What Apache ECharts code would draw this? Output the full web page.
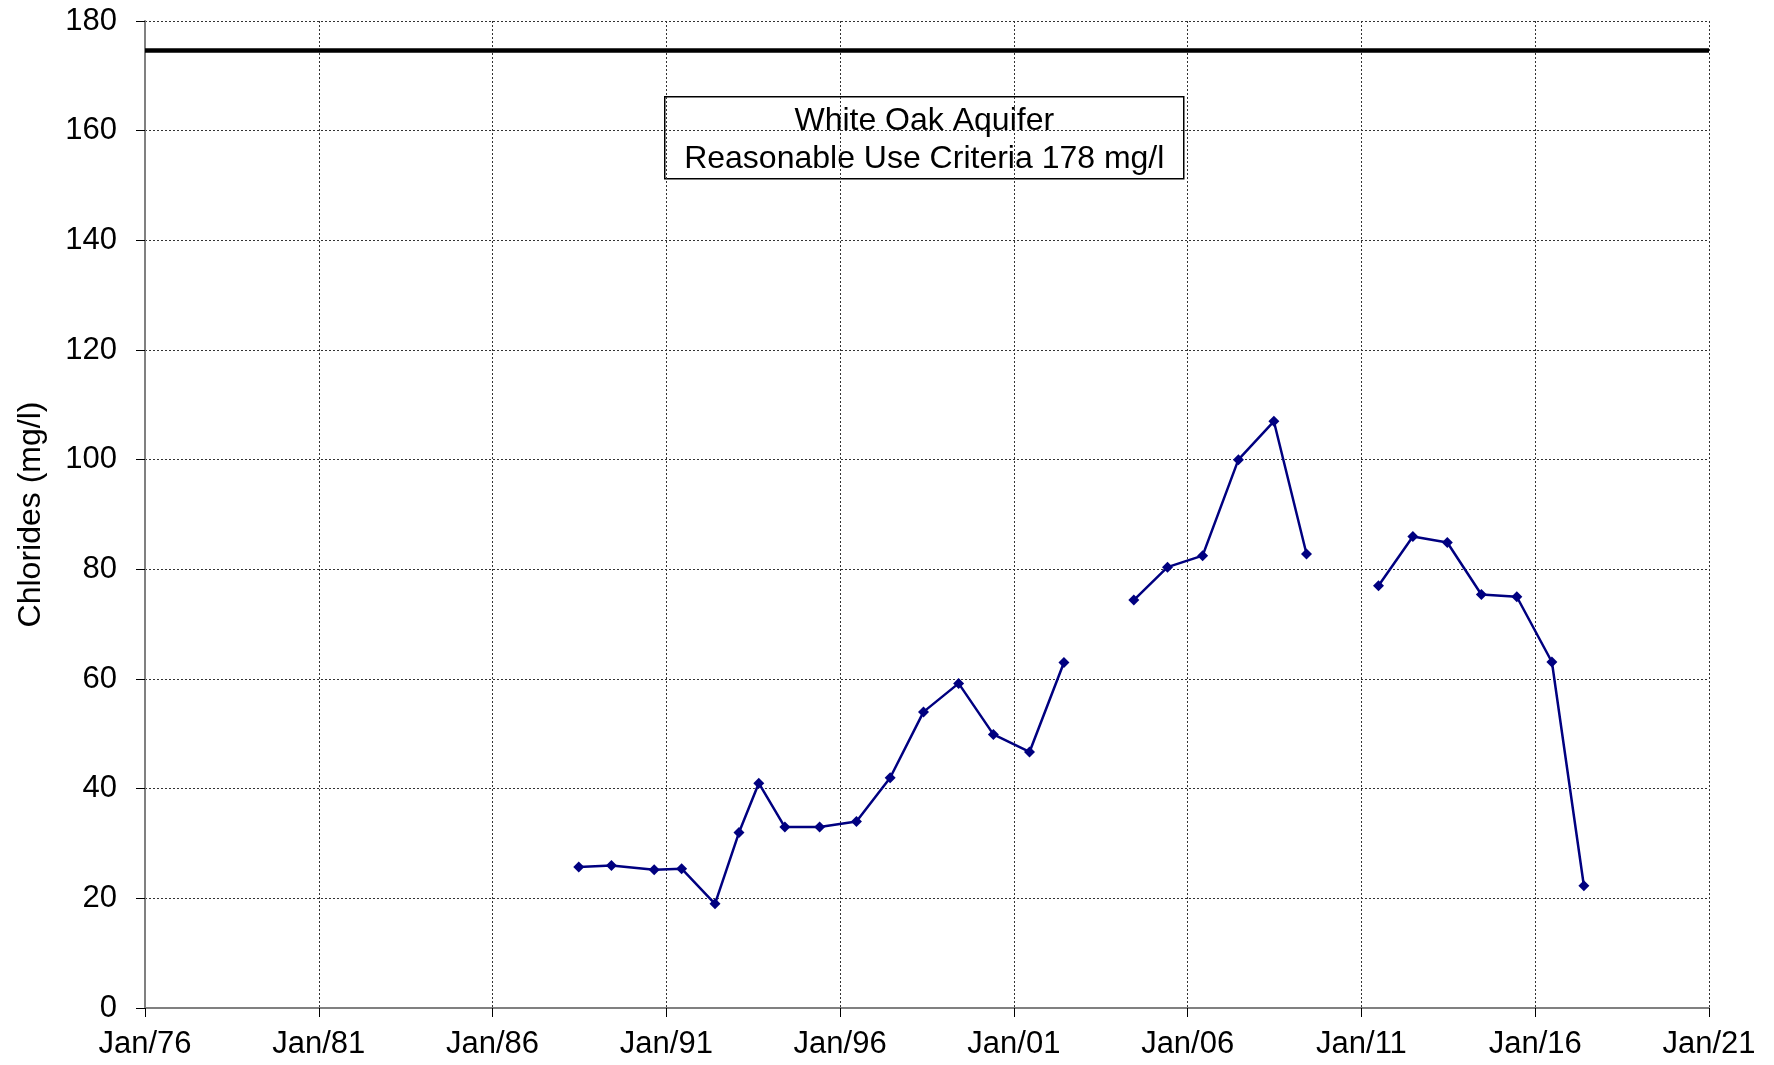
<!DOCTYPE html>
<html>
<head>
<meta charset="utf-8">
<script src="https://cdn.jsdelivr.net/npm/echarts@6/dist/echarts.min.js"></script>
<style>
html,body{margin:0;padding:0;background:#fff;}
#chart{width:1774px;height:1065px;}
</style>
</head>
<body>
<div id="chart"></div>
<script>
// Sample dates as decimal years (null value = gap in record)
const sampleYears = [1988.48, 1989.42, 1990.65, 1991.44, 1992.40, 1993.09, 1993.66, 1994.41, 1995.41, 1996.47,
  1997.44, 1998.40, 1999.41, 2000.41, 2001.45, 2002.44, 2003.4, 2004.45, 2005.42, 2006.43,
  2007.46, 2008.48, 2009.42, 2010.5, 2011.49, 2012.48, 2013.47, 2014.45, 2015.47, 2016.48, 2017.40];
const chlorides = [25.7, 26.0, 25.2, 25.4, 19.0, 32.0, 41.0, 33.0, 33.0, 34.0,
  42.0, 54.0, 59.2, 49.9, 46.7, 63.0, null, 74.4, 80.4, 82.5,
  100.0, 107.0, 82.8, null, 77.0, 86.0, 84.9, 75.4, 75.0, 63.1, 22.3];
const criteriaLevel = 174.6;
const xTickYears = [1976, 1981, 1986, 1991, 1996, 2001, 2006, 2011, 2016, 2021];
const yTicks = [0, 20, 40, 60, 80, 100, 120, 140, 160, 180];
const annotationLines = ['White Oak Aquifer', 'Reasonable Use Criteria 178 mg/l'];
const yTitle = 'Chlorides (mg/l)';

const FONT = '"Liberation Sans", Arial, sans-serif';
const chart = echarts.init(document.getElementById('chart'), null, {renderer: 'canvas'});
const seriesData = sampleYears.map((y, i) => [y, chlorides[i] === null ? '-' : chlorides[i]]);

chart.setOption({
  animation: false,
  backgroundColor: '#ffffff',
  grid: {left: 145, right: 65, top: 21, bottom: 57, containLabel: false},
  xAxis: {
    type: 'value',
    min: xTickYears[0],
    max: xTickYears[xTickYears.length - 1],
    interval: 5,
    axisLine: {show: true, onZero: false, lineStyle: {color: '#808080', width: 2}},
    axisTick: {show: true, length: 9, lineStyle: {color: '#000', width: 1}},
    axisLabel: {
      margin: 21, color: '#000', fontFamily: FONT, fontSize: 31,
      formatter: v => 'Jan/' + String(Math.round(v)).slice(2)
    },
    splitLine: {show: true, lineStyle: {color: '#333', width: 1, type: [2, 2]}}
  },
  yAxis: {
    type: 'value',
    min: yTicks[0],
    max: yTicks[yTicks.length - 1],
    interval: 20,
    name: yTitle,
    nameLocation: 'middle',
    nameGap: 98,
    nameTextStyle: {color: '#000', fontFamily: FONT, fontSize: 32},
    axisLine: {show: true, lineStyle: {color: '#808080', width: 2}},
    axisTick: {show: true, length: 9, lineStyle: {color: '#000', width: 1}},
    axisLabel: {margin: 28, color: '#000', fontFamily: FONT, fontSize: 31},
    splitLine: {show: true, lineStyle: {color: '#333', width: 1, type: [2, 2]}}
  },
  series: [{
    type: 'line',
    data: seriesData,
    connectNulls: false,
    symbol: 'diamond',
    symbolSize: 11,
    showSymbol: true,
    lineStyle: {color: '#000080', width: 2.5},
    itemStyle: {color: '#000080'},
    z: 5,
    markLine: {
      silent: true,
      symbol: 'none',
      label: {show: false},
      lineStyle: {color: '#000', width: 4.5, type: 'solid'},
      data: [{yAxis: criteriaLevel}]
    }
  }],
  graphic: [{
    type: 'group',
    left: 664,
    top: 96,
    children: [{
      type: 'rect',
      shape: {x: 0, y: 0, width: 519, height: 82},
      style: {fill: '#fff', stroke: '#000', lineWidth: 1.5}
    }, {
      type: 'text',
      x: 259.5,
      y: 43,
      style: {
        text: annotationLines.join('\n'),
        fill: '#000',
        font: '32px "Liberation Sans", Arial, sans-serif',
        lineHeight: 38,
        align: 'center',
        verticalAlign: 'middle'
      }
    }]
  }]
});
</script>
</body>
</html>
